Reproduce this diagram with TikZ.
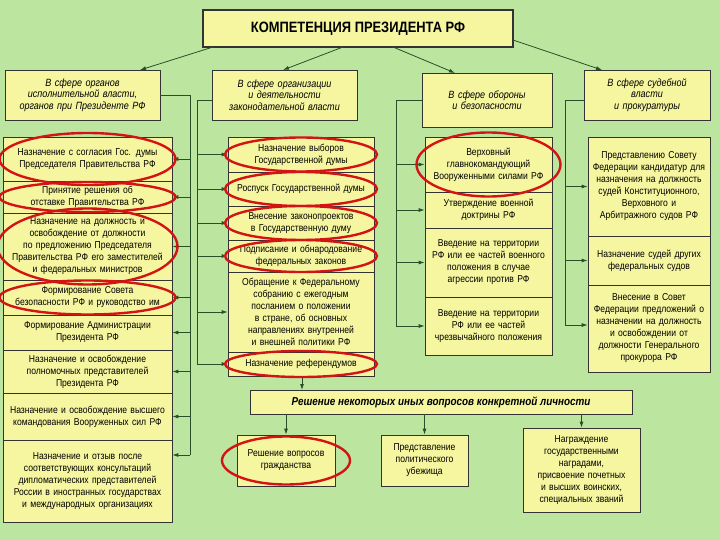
\documentclass[tikz,border=0pt]{standalone}
\usepackage{fontspec}
\setmainfont{Liberation Sans}[FakeStretch=0.86]
\usetikzlibrary{arrows.meta}
\definecolor{bg}{RGB}{188,230,160}
\definecolor{bx}{RGB}{246,246,160}
\definecolor{ln}{RGB}{40,80,40}
\definecolor{rd}{RGB}{210,20,20}
\tikzset{
 box/.style={draw=black!80,fill=bx,line width=0.7pt,align=center,inner sep=1pt,font=\fontsize{10}{12}\selectfont},
 hdr/.style={box,font=\fontsize{10.5}{11.5}\selectfont\itshape},
 arr/.style={draw=ln,line width=0.8pt,-{Latex[length=6pt,width=4pt]}},
 bus/.style={draw=ln,line width=0.8pt},
 ring/.style={draw=rd,line width=2.4pt}
}
\newcommand{\bx}[7][box]{\node[#1,minimum width=#4pt-#2pt,minimum height=#5pt-#3pt,text width=#4pt-#2pt-8pt] (#6) at ({(#2+#4)/2},{(#3+#5)/2}) {#7};}
\begin{document}
\begin{tikzpicture}[x=1pt,y=-1pt]
\fill[bg] (0,0) rectangle (720,540);
\useasboundingbox (0,0) rectangle (720,540);
\node[box,line width=1.2pt,minimum width=310pt,minimum height=37pt,font=\fontsize{15}{16}\selectfont\bfseries] (T) at (358,28.5) {КОМПЕТЕНЦИЯ ПРЕЗИДЕНТА РФ};
\bx[hdr]{5}{70}{160}{120}{h1}{В сфере органов исполнительной власти, органов при Президенте РФ}
\bx[hdr]{212}{70}{357}{120}{h2}{В сфере организации и деятельности законодательной власти}
\bx[hdr]{422}{73}{552}{127}{h3}{В сфере обороны\\ и безопасности}
\bx[hdr]{584}{70}{710}{120}{h4}{В сфере судебной\\ власти\\ и прокуратуры}
\draw[arr] (213,47) -- (140,70);
\draw[arr] (343,47) -- (283,70);
\draw[arr] (393,47) -- (455,73);
\draw[arr] (513,40) -- (602,70);
% column 1
\bx{3}{137}{172}{181}{a1}{Назначение с согласия Гос. думы Председателя Правительства РФ}
\bx{3}{181}{172}{213}{a2}{Принятие решения об отставке Правительства РФ}
\bx{3}{213}{172}{280}{a3}{Назначение на должность и освобождение от должности по предложению Председателя Правительства РФ его заместителей и федеральных министров}
\bx{3}{280}{172}{315}{a4}{Формирование Совета безопасности РФ и руководство им}
\bx{3}{315}{172}{350}{a5}{Формирование Администрации Президента РФ}
\bx{3}{350}{172}{393}{a6}{Назначение и освобождение полномочных представителей Президента РФ}
\bx{3}{393}{172}{440}{a7}{Назначение и освобождение высшего командования Вооруженных сил РФ}
\bx{3}{440}{172}{522}{a8}{Назначение и отзыв после соответствующих консультаций дипломатических представителей России в иностранных государствах и международных организациях}
\coordinate (c1t) at (190,95);
\coordinate (c1b) at (190,455);
\draw[bus] (h1.east|-c1t) -- (c1t) -- (c1b);
\foreach \n in {a1,a2,a3,a4,a5,a6,a7}{\draw[arr] (c1t|-\n.east) -- (\n.east);}
\draw[arr] (c1b) -- (c1b-|a8.east);
% column 2
\bx{228}{137}{374}{172}{b1}{Назначение выборов Государственной думы}
\bx{228}{172}{374}{206}{b2}{Роспуск Государственной думы}
\bx{228}{206}{374}{240}{b3}{Внесение законопроектов в Государственную думу}
\bx{228}{240}{374}{272}{b4}{Подписание и обнародование федеральных законов}
\bx{228}{272}{374}{352}{b5}{Обращение к Федеральному собранию с ежегодным посланием о положении в стране, об основных направлениях внутренней и внешней политики РФ}
\bx{228}{352}{374}{376}{b6}{Назначение референдумов}
\coordinate (c2t) at (197,100);
\coordinate (c2b) at (197,364);
\draw[bus] (h2.west|-c2t) -- (c2t) -- (c2b);
\foreach \n in {b1,b2,b3,b4,b5,b6}{\draw[arr] (c2t|-\n.west) -- (\n.west);}
% column 3
\bx{425}{137}{552}{192}{d1}{Верховный главнокомандующий Вооруженными силами РФ}
\bx{425}{192}{552}{228}{d2}{Утверждение военной доктрины РФ}
\bx{425}{228}{552}{297}{d3}{Введение на территории РФ или ее частей военного положения в случае агрессии против РФ}
\bx{425}{297}{552}{355}{d4}{Введение на территории РФ или ее частей чрезвычайного положения}
\coordinate (c3t) at (396,100);
\coordinate (c3b) at (396,326);
\draw[bus] (h3.west|-c3t) -- (c3t) -- (c3b);
\foreach \n in {d1,d2,d3,d4}{\draw[arr] (c3t|-\n.west) -- (\n.west);}
% column 4
\bx{588}{137}{710}{236}{e1}{Представлению Совету Федерации кандидатур для назначения на должность судей Конституционного, Верховного и Арбитражного судов РФ}
\bx{588}{236}{710}{285}{e2}{Назначение судей других федеральных судов}
\bx{588}{285}{710}{372}{e3}{Внесение в Совет Федерации предложений о назначении на должность и освобождении от должности Генерального прокурора РФ}
\coordinate (c4t) at (565,100);
\coordinate (c4b) at (565,325);
\draw[bus] (h4.west|-c4t) -- (c4t) -- (c4b);
\draw[arr] (c4t|-e1.west) -- (e1.west);
\draw[arr] (c4t|-e2.west) -- (e2.west);
\draw[arr] (c4b) -- (c4b-|e3.west);
% bottom
\node[box,minimum width=382pt,minimum height=24pt,font=\fontsize{11.5}{12}\selectfont\bfseries\itshape] (L) at (441,402) {Решение некоторых иных вопросов конкретной личности};
\draw[arr] (302,376) -- (302,390);
\bx{237}{435}{335}{486}{s1}{Решение вопросов гражданства}
\bx{381}{435}{468}{486}{s2}{Представление политического убежища}
\bx{523}{428}{640}{512}{s3}{Награждение государственными наградами, присвоение почетных и высших воинских, специальных званий}
\draw[arr] (L.south-|s1.north) -- (s1.north);
\draw[arr] (L.south-|s2.north) -- (s2.north);
\draw[arr] (L.south-|s3.north) -- (s3.north);
% rings
\draw[ring] (a1.center) ellipse[x radius=88,y radius=26];
\draw[ring] (a2.center) ellipse[x radius=88,y radius=15];
\draw[ring] (a3.center) ellipse[x radius=90,y radius=38];
\draw[ring] (a4.center) ellipse[x radius=88,y radius=17];
\draw[ring] (b1.center) ellipse[x radius=76,y radius=17];
\draw[ring] (b2.center) ellipse[x radius=76,y radius=17];
\draw[ring] (b3.center) ellipse[x radius=76,y radius=17];
\draw[ring] (b4.center) ellipse[x radius=76,y radius=16];
\draw[ring] (b6.center) ellipse[x radius=76,y radius=13];
\draw[ring] (d1.center) ellipse[x radius=72,y radius=32];
\draw[ring] (s1.center) ellipse[x radius=64,y radius=24];
\end{tikzpicture}
\end{document}
